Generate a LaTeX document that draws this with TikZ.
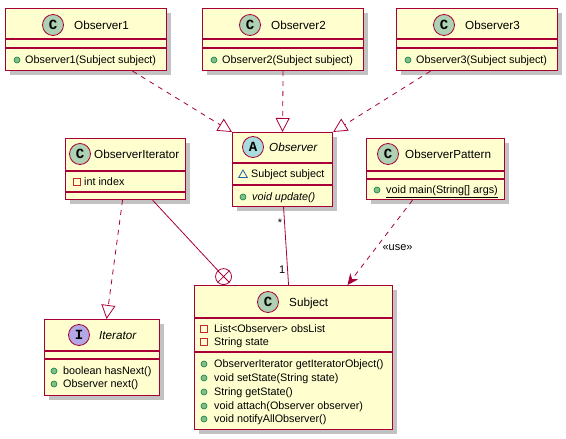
\documentclass[tikz,border=0pt]{standalone}
\usepackage{fontspec}
\setmainfont{Liberation Sans}
\newfontfamily\spotfont{Liberation Mono}
\usepackage{tikz}
\usetikzlibrary{arrows.meta}
\usetikzlibrary{calc, shapes, shadows}
\usetikzlibrary{positioning}

\definecolor{umlrand}{HTML}{A80036}
\definecolor{umlfuell}{HTML}{FEFECE}
\definecolor{spotC}{HTML}{ADD1B2}
\definecolor{spotA}{HTML}{A9DCDF}
\definecolor{spotI}{HTML}{B4A7E5}
\definecolor{pubfuell}{HTML}{84BE84}
\definecolor{pubrand}{HTML}{038048}
\definecolor{privrand}{HTML}{C82930}
\definecolor{pakrand}{HTML}{1963A0}

\tikzset{
  klasse/.style={draw=umlrand, fill=umlfuell, line width=1.1pt, inner sep=0pt, anchor=north west,
    drop shadow={shadow xshift=4pt, shadow yshift=-4pt, fill=black!60, opacity=0.4}},
  trenn/.style={draw=umlrand, line width=1.1pt},
  spot/.style={circle, draw=umlrand, line width=0.8pt, minimum size=21pt, inner sep=0pt,
    font=\spotfont\bfseries\fontsize{14}{14}\selectfont},
  kname/.style={anchor=west, inner sep=0pt, text height=8.3pt, text depth=0pt,
    font=\fontsize{11.7}{12}\selectfont},
  glied/.style={anchor=west, inner sep=0pt, text height=7.7pt, text depth=0pt,
    font=\fontsize{10.8}{12}\selectfont},
  pub/.style={circle, draw=pubrand, fill=pubfuell, minimum size=6pt, inner sep=0pt, line width=0.6pt},
  priv/.style={rectangle, draw=privrand, minimum size=6.5pt, inner sep=0pt, line width=0.8pt},
  pak/.style={regular polygon, regular polygon sides=3, draw=pakrand, minimum size=10pt,
    inner sep=0pt, line width=0.8pt},
  verbindung/.style={draw=umlrand, line width=0.8pt},
  realisierung/.style={verbindung, dash pattern=on 5pt off 5pt,
    -{Triangle[open, length=14pt, width=14pt]}},
  benutzt/.style={verbindung, dash pattern=on 5pt off 5pt, -{Stealth[length=11pt, width=10pt]}},
  multi/.style={inner sep=0pt, font=\fontsize{11}{12}\selectfont},
  nestkreis/.style={circle, draw=umlrand, line width=0.8pt, minimum size=16pt, inner sep=0pt}
}

\begin{document}
\begin{tikzpicture}[x=1pt, y=-1pt] % y-Achse nach unten
\useasboundingbox (0,0) rectangle (566,439);
% Observer1 bis Observer3
\foreach \i/\l in {1/5, 2/202, 3/396} {
    \node[klasse, minimum width=161pt, minimum height=62pt] (obs\i) at (\l,8) {};
    \draw[trenn] (\l,39) -- ++(161,0);
    \draw[trenn] (\l,48) -- ++(161,0);
    \node[spot, fill=spotC] (obs\i-spot) at (\l+48,25) {C};
    \node[kname] (obs\i-name) at (\l+69,25) {Observer\i};
    \node[pub] (obs\i-pub) at (\l+12,60) {};
    \node[glied] (obs\i-op) at (\l+20,60) {Observer\i(Subject subject)};
}
% ObserverIterator
\node[klasse, minimum width=120pt, minimum height=61pt] (obsiter) at (65,138) {};
\draw[trenn] (65,171) -- ++(120,0);
\draw[trenn] (65,192) -- ++(120,0);
\node[spot, fill=spotC] (obsiter-spot) at (80,154) {C};
\node[kname] (obsiter-name) at (94,154) {ObserverIterator};
\node[priv] (obsiter-priv) at (77,182) {};
\node[glied] (obsiter-feld) at (84,182) {int index};
% Observer (abstrakt)
\node[klasse, minimum width=100pt, minimum height=74pt] (observer) at (232,132) {};
\draw[trenn] (232,163) -- ++(100,0);
\draw[trenn] (232,185) -- ++(100,0);
\node[spot, fill=spotA] (observer-spot) at (253,147) {A};
\node[kname] (observer-name) at (269,147) {\itshape Observer};
\node[pak] (observer-pak) at (243,175) {};
\node[glied] (observer-feld) at (251,174) {Subject subject};
\node[pub] (observer-pub) at (243,197) {};
\node[glied] (observer-op) at (252,197) {\itshape void update()};
% ObserverPattern
\node[klasse, minimum width=138pt, minimum height=61pt] (pattern) at (366,138) {};
\draw[trenn] (366,171) -- ++(138,0);
\draw[trenn] (366,179) -- ++(138,0);
\node[spot, fill=spotC] (pattern-spot) at (388,154) {C};
\node[kname] (pattern-name) at (405,154) {ObserverPattern};
\node[pub] (pattern-pub) at (377,190) {};
\node[glied] (pattern-op) at (386,190) {\underline{void main(String[] args)}};
% Iterator (Interface)
\node[klasse, minimum width=115pt, minimum height=76pt] (iterator) at (44,319) {};
\draw[trenn] (44,351) -- ++(115,0);
\draw[trenn] (44,359) -- ++(115,0);
\node[spot, fill=spotI] (iterator-spot) at (79,335) {I};
\node[kname] (iterator-name) at (99,335) {\itshape Iterator};
\foreach \y/\op [count=\n] in {371/boolean hasNext(), 384/Observer next()} {
    \node[pub] (iterator-pub\n) at (54,\y) {};
    \node[glied] (iterator-op\n) at (63,\y) {\op};
}
% Subject
\node[klasse, minimum width=198pt, minimum height=144pt] (subject) at (194,285) {};
\draw[trenn] (194,318) -- ++(198,0);
\draw[trenn] (194,352) -- ++(198,0);
\node[spot, fill=spotC] (subject-spot) at (268,302) {C};
\node[kname] (subject-name) at (289,302) {Subject};
\foreach \y/\feld [count=\n] in {329/List<Observer> obsList, 342/String state} {
    \node[priv] (subject-priv\n) at (204,\y) {};
    \node[glied] (subject-feld\n) at (214,\y) {\feld};
}
\foreach \y/\op [count=\n] in {364/ObserverIterator getIteratorObject(),
    378/void setState(String state), 392/String getState(),
    406/void attach(Observer observer), 419/void notifyAllObserver()} {
    \node[pub] (subject-pub\n) at (204,\y) {};
    \node[glied] (subject-op\n) at (214,\y) {\op};
}
% Beziehungen
\draw[realisierung] ([xshift=46.5pt]obs1.south) -- (observer.north west);
\draw[realisierung] (obs2.south) -- (observer.north);
\draw[realisierung] ([xshift=-46.5pt]obs3.south) -- (observer.north east);
\draw[realisierung] ([xshift=-3pt]obsiter.south) -- ([xshift=4.5pt]iterator.north);
\node[nestkreis, anchor=south] (nest) at ([xshift=-70pt]subject.north) {};
\draw[verbindung] (nest.north west) -- (nest.south east) (nest.north east) -- (nest.south west);
\draw[verbindung] ([xshift=27pt]obsiter.south) -- (nest);
\draw[verbindung] ([xshift=1pt]observer.south) -- ([xshift=-5pt]subject.north)
    node[multi, pos=0.2, left=2pt] (mult-stern) {*}
    node[multi, pos=0.81, left=2pt] (mult-eins) {1};
\draw[benutzt] ([xshift=-23pt]pattern.south) -- ([xshift=54pt]subject.north)
    node[multi, pos=0.56, right=6pt] (use-label) {«use»};
\end{tikzpicture}
\end{document}
